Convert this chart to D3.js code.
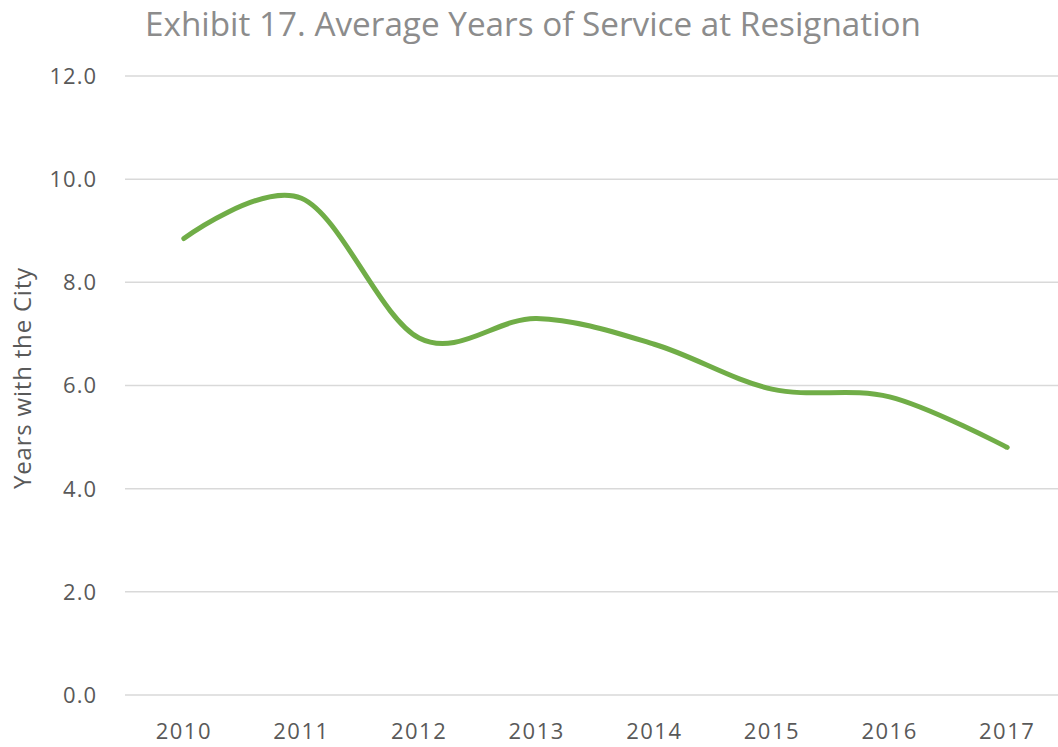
<!DOCTYPE html>
<html lang="en">
<head>
    <meta charset="utf-8">
    <title>Exhibit 17. Average Years of Service at Resignation</title>
    <script src="https://d3js.org/d3.v7.min.js"></script>
    <style>
        body { margin: 0; background: #fff; }
        svg { display: block; font-family: "Open Sans", sans-serif; }
        .grid line { stroke: #d9d9d9; stroke-width: 1.5; }
        .tick-label { fill: #595959; font-size: 22px; }
    </style>
</head>
<body>
<script>
    // chart data
    var years = ["2010", "2011", "2012", "2013", "2014", "2015", "2016", "2017"];
    var avgService = [8.85, 9.63, 6.92, 7.30, 6.80, 5.93, 5.78, 4.80];
    var yTicks = [0, 2, 4, 6, 8, 10, 12];

    var width = 1058, height = 747;

    var svg = d3.select("body").append("svg")
        .attr("width", width)
        .attr("height", height);

    // plot area runs a little past the right edge, like the original
    var x = d3.scaleBand().domain(years).range([125, 1066]);
    var y = d3.scaleLinear().domain([0, 12]).range([695, 76]);

    // gridlines
    svg.append("g").attr("class", "grid")
        .selectAll("line")
        .data(yTicks)
        .enter().append("line")
        .attr("x1", 125)
        .attr("x2", width)
        .attr("y1", function(d) { return y(d); })
        .attr("y2", function(d) { return y(d); });

    // y tick labels
    svg.append("g")
        .selectAll("text")
        .data(yTicks)
        .enter().append("text")
        .attr("class", "tick-label")
        .attr("x", 97)
        .attr("y", function(d) { return y(d); })
        .attr("dy", "0.36em")
        .attr("text-anchor", "end")
        .style("letter-spacing", "1px")
        .text(function(d) { return d3.format(".1f")(d); });

    // x tick labels
    svg.append("g")
        .selectAll("text")
        .data(years)
        .enter().append("text")
        .attr("class", "tick-label")
        .attr("x", function(d) { return x(d) + x.bandwidth() / 2; })
        .attr("y", 739)
        .attr("text-anchor", "middle")
        .style("letter-spacing", "1.5px")
        .text(function(d) { return d; });

    // axis title
    svg.append("text")
        .attr("class", "tick-label")
        .attr("transform", "translate(31,378) rotate(-90)")
        .attr("text-anchor", "middle")
        .style("font-size", "24px")
        .style("letter-spacing", "0.8px")
        .text("Years with the City");

    // chart title
    svg.append("text")
        .attr("x", 145)
        .attr("y", 36)
        .attr("textLength", 776)
        .attr("lengthAdjust", "spacingAndGlyphs")
        .style("font-size", "33px")
        .style("fill", "#8c8c8c")
        .text("Exhibit 17. Average Years of Service at Resignation");

    // smoothed line (Excel-style smoothing)
    var line = d3.line()
        .x(function(d, i) { return x(years[i]) + x.bandwidth() / 2; })
        .y(function(d) { return y(d); })
        .curve(d3.curveCardinal.tension(0));

    svg.append("path")
        .datum(avgService)
        .attr("d", line)
        .attr("fill", "none")
        .attr("stroke", "#70ad47")
        .attr("stroke-width", 5)
        .attr("stroke-linecap", "round")
        .attr("stroke-linejoin", "round");
</script>
</body>
</html>
